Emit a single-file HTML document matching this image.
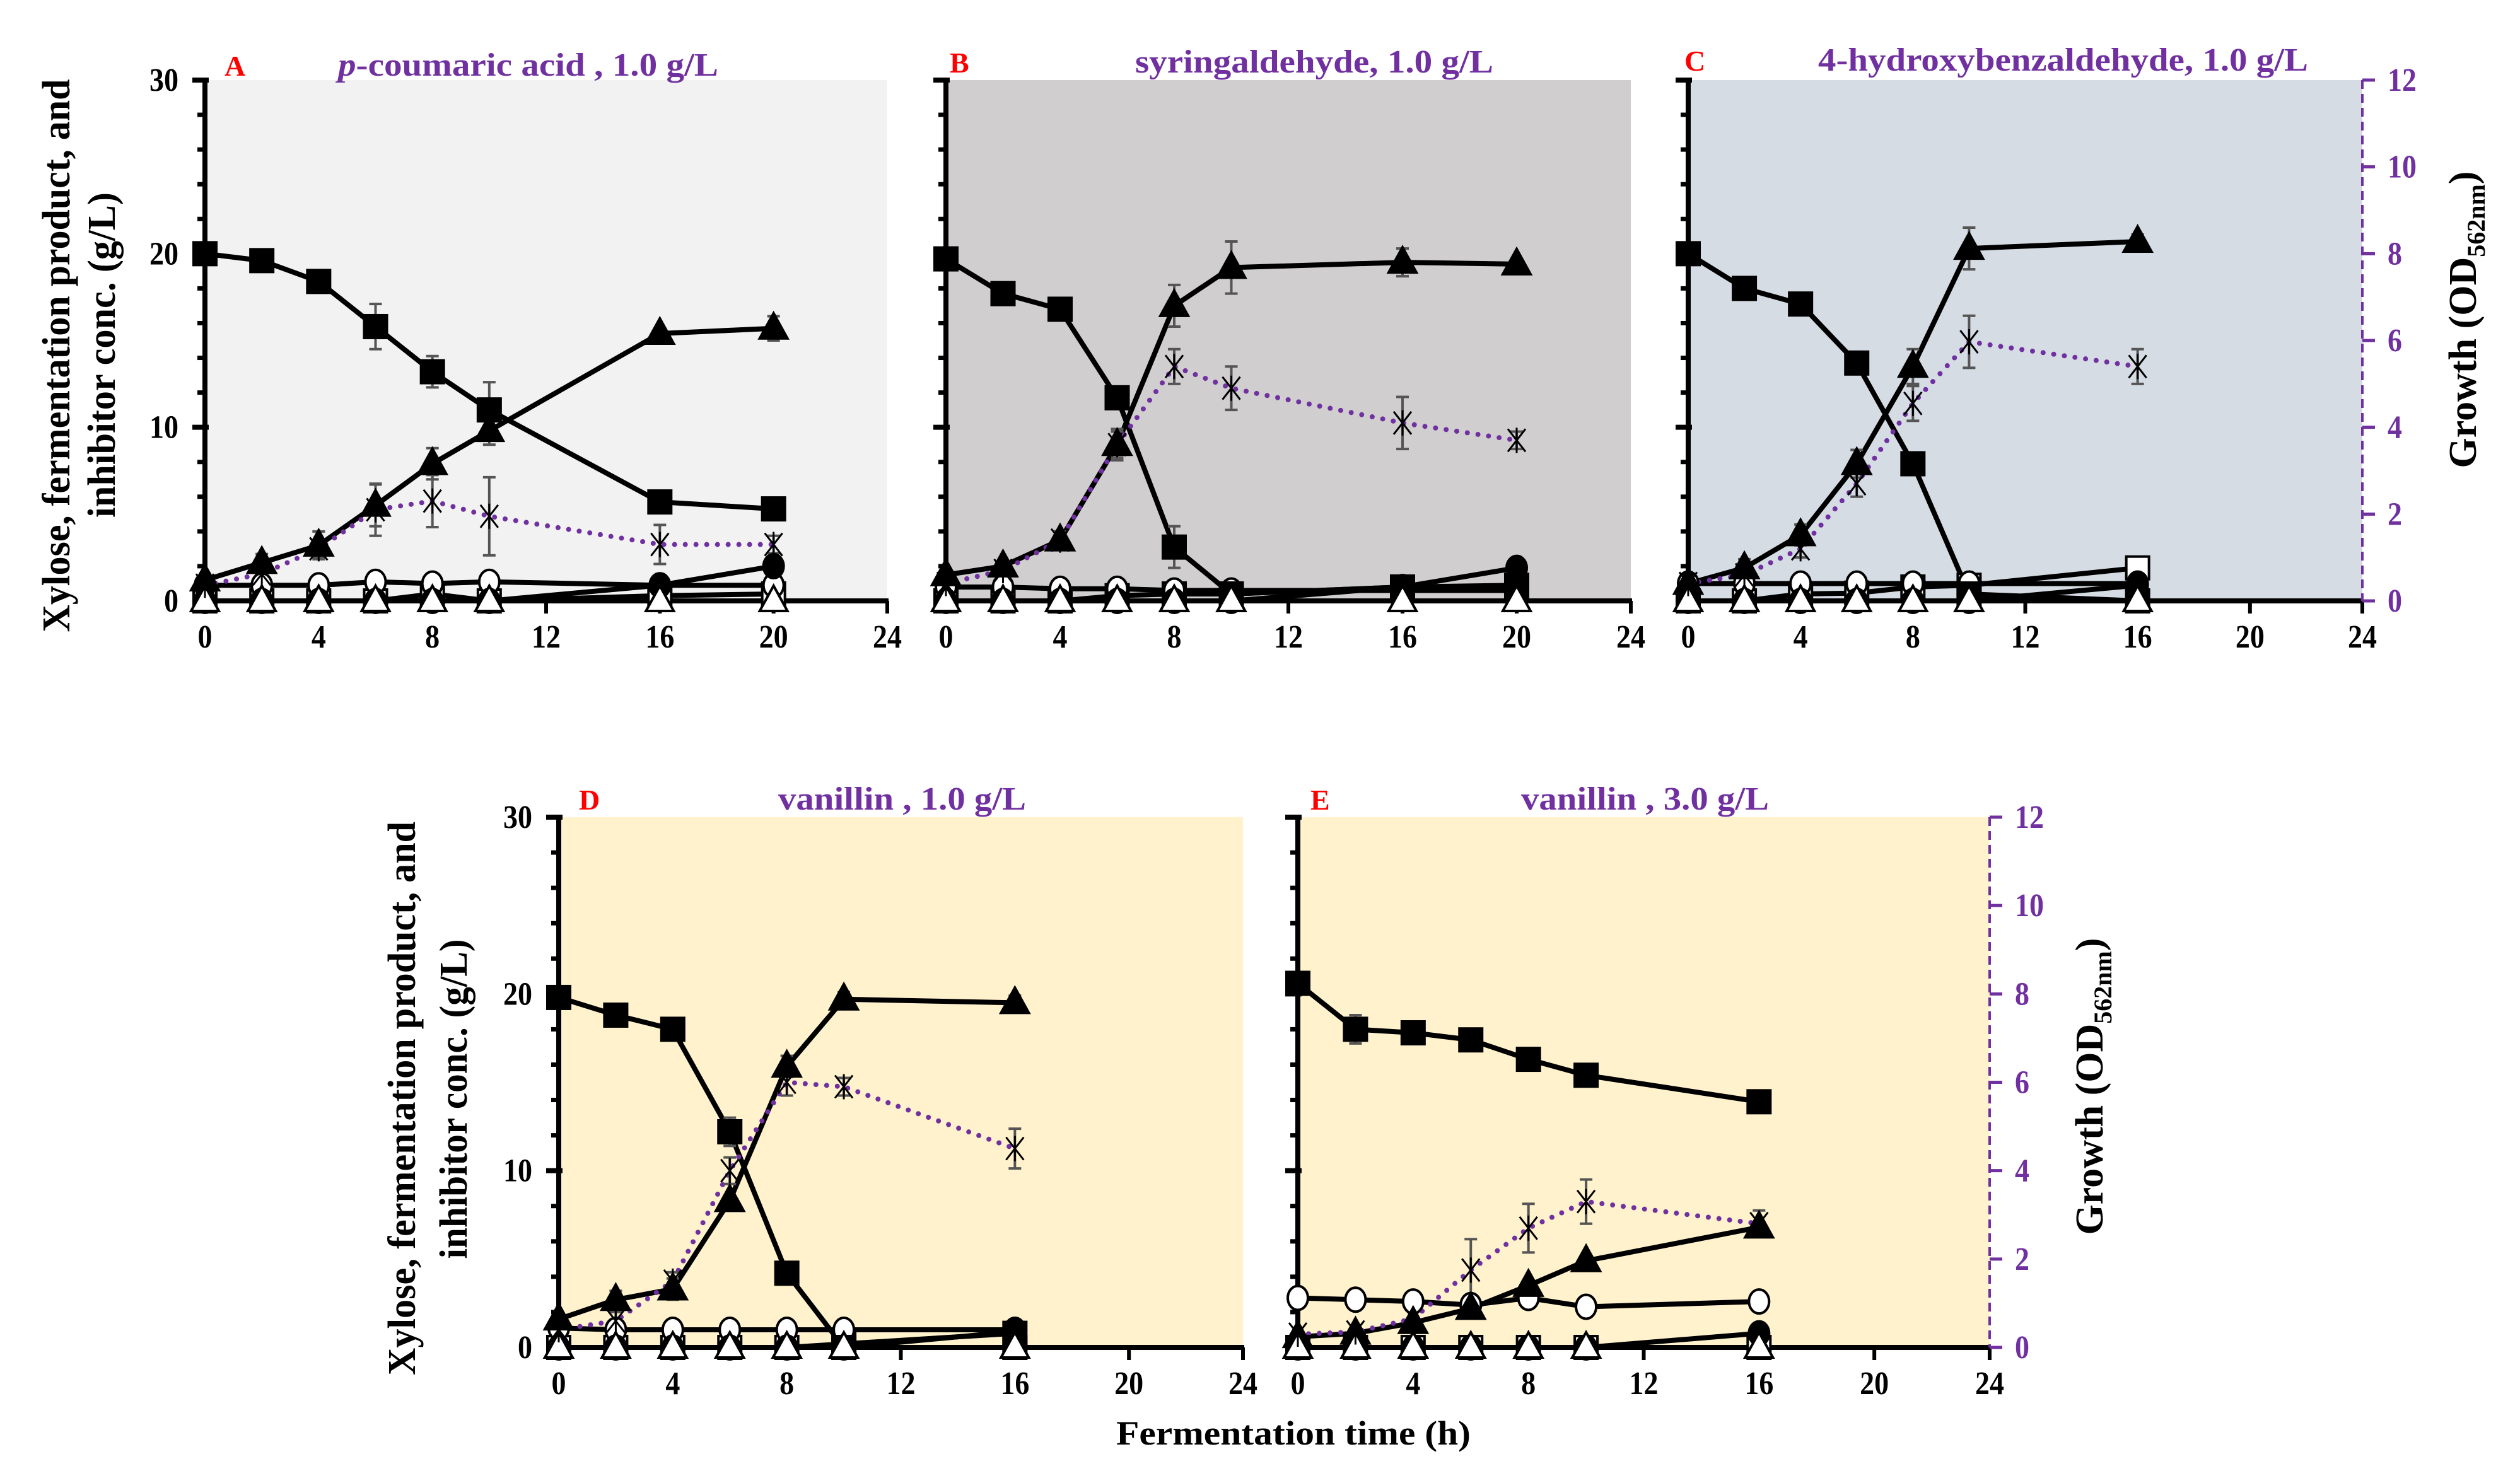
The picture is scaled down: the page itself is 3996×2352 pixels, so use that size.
<!DOCTYPE html>
<html><head><meta charset="utf-8"><style>
html,body{margin:0;padding:0;background:#fff;}
svg{display:block;}
text{font-family:"Liberation Serif",serif;font-weight:bold;}
</style></head><body>
<svg id="chart" width="3996" height="2352" viewBox="0 0 3996 2352" xmlns="http://www.w3.org/2000/svg">
<g id="layer"></g>
</svg>
<script>
// ---------- data ----------
const xTicks = [0, 4, 8, 12, 16, 20, 24];
const yTicksLeft = [0, 10, 20, 30];
const yTicksRight = [0, 2, 4, 6, 8, 10, 12];

const timeA = [0, 2, 4, 6, 8, 10, 16, 20];
const xyloseA = [20, 19.6, 18.4, 15.8, 13.2, 11.0, 5.7, 5.3];
const xyloseErrA = [0, 0.4, 0, 1.3, 0.9, 1.6, 0.4, 0];
const ethanolA = [1.2, 2.2, 3.2, 5.5, 7.9, 9.8, 15.4, 15.7];
const ethanolErrA = [0, 0.5, 0.8, 1.2, 0.9, 0.8, 0.3, 0.7];
const openCircleA = [0.9, 0.9, 0.9, 1.1, 1.0, 1.1, 0.9, 0.9];
const filledCircleA = [0, 0, 0, 0, 0, 0, 0.9, 2.0];
const openSquareA = [0, 0, 0, 0, 0.4, 0, 0.3, 0.4];
const openTriangleA = [0, 0, 0, 0, 0, 0, 0, 0];
const growthA = [0.36, 0.62, 1.2, 2.1, 2.3, 1.95, 1.3, 1.3];
const growthErrA = [0, 0.2, 0.2, 0.6, 0.6, 0.9, 0.45, 0.2];

const timeB = [0, 2, 4, 6, 8, 10, 16, 20];
const xyloseB = [19.7, 17.7, 16.8, 11.7, 3.1, 0.4, 0.8, 0.8];
const xyloseErrB = [0, 0.5, 0, 0, 1.2, 0, 0, 0];
const ethanolB = [1.5, 2.0, 3.5, 9.0, 17.0, 19.2, 19.5, 19.4];
const ethanolErrB = [0, 0, 0.5, 0.9, 1.2, 1.5, 0.8, 0];
const openCircleB = [0.8, 0.8, 0.7, 0.7, 0.6, 0.6, 0.6, 0.6];
const filledCircleB = [0, 0, 0, 0, 0, 0, 0.8, 1.9];
const openSquareB = [0, 0, 0, 0.3, 0.4, 0.4, 0.8, 0.9];
const openTriangleB = [0, 0, 0, 0, 0, 0, 0, 0];
const growthB = [0.4, 0.7, 1.4, 3.6, 5.4, 4.9, 4.1, 3.7];
const growthErrB = [0, 0.2, 0.2, 0.3, 0.4, 0.5, 0.6, 0.2];

const timeC = [0, 2, 4, 6, 8, 10, 16];
const xyloseC = [20, 18.0, 17.1, 13.7, 7.9, 0.4, 0];
const xyloseErrC = [0, 0, 0.4, 0, 0.5, 0, 0];
const ethanolC = [1.0, 1.9, 3.8, 7.9, 13.5, 20.3, 20.7];
const ethanolErrC = [0, 0.5, 0.6, 0.8, 1.0, 1.2, 0.4];
const openCircleC = [1.0, 1.0, 1.0, 1.0, 1.0, 1.0, 1.0];
const filledCircleC = [0, 0, 0, 0, 0, 0, 0.9];
const openSquareC = [0, 0, 0.4, 0.45, 0.8, 0.9, 1.9];
const openTriangleC = [0, 0, 0, 0, 0, 0, 0];
const growthC = [0.4, 0.6, 1.2, 2.7, 4.55, 5.97, 5.4];
const growthErrC = [0, 0.15, 0.2, 0.3, 0.4, 0.6, 0.4];

const timeD = [0, 2, 4, 6, 8, 10, 16];
const xyloseD = [19.8, 18.8, 18.0, 12.2, 4.2, 0, 0];
const xyloseErrD = [0, 0.5, 0.2, 0.8, 0, 0, 0];
const ethanolD = [1.6, 2.7, 3.3, 8.3, 15.9, 19.7, 19.5];
const ethanolErrD = [0, 0.5, 0.6, 0, 0.6, 0.4, 0.4];
const openCircleD = [1.1, 1.0, 1.0, 1.0, 1.0, 1.0, 1.0];
const filledCircleD = [0, 0, 0, 0, 0, 0, 0.9];
const openSquareD = [0, 0, 0, 0, 0, 0.2, 0.8];
const openTriangleD = [0, 0, 0, 0, 0, 0, 0];
const growthD = [0.4, 0.6, 1.5, 4.0, 6.0, 5.9, 4.5];
const growthErrD = [0, 0.2, 0.2, 0.3, 0.3, 0.2, 0.45];

const timeE = [0, 2, 4, 6, 8, 10, 16];
const xyloseE = [20.6, 18.0, 17.8, 17.4, 16.3, 15.4, 13.9];
const xyloseErrE = [0, 0.8, 0, 0, 0, 0, 0];
const ethanolE = [0.6, 0.8, 1.4, 2.2, 3.5, 4.9, 6.8];
const ethanolErrE = [0, 0, 0, 0, 0, 0, 0];
const openCircleE = [2.8, 2.7, 2.6, 2.4, 2.8, 2.3, 2.6];
const filledCircleE = [0, 0, 0, 0, 0, 0, 0.8];
const openSquareE = [0, 0, 0, 0, 0, 0, 0];
const openTriangleE = [0, 0, 0, 0, 0, 0, 0];
const growthE = [0.3, 0.35, 0.65, 1.75, 2.7, 3.3, 2.8];
const growthErrE = [0, 0, 0.2, 0.7, 0.55, 0.5, 0.3];

// ---------- drawing ----------
const NS = "http://www.w3.org/2000/svg";
const layer = document.getElementById("layer");
function mk(tag, attrs, parent) {
  const e = document.createElementNS(NS, tag);
  for (const k in attrs) e.setAttribute(k, attrs[k]);
  (parent || layer).appendChild(e);
  return e;
}
const PURPLE = "#7030a0";

function drawPanel(p) {
  const g = mk("g", {});
  
  
  const xs = t => p.x0 + (p.x1 - p.x0) * t / 24;
  const ys = v => p.yb - (p.yb - p.yt) * v / 30;
  const yr = v => p.yb - (p.yb - p.yt) * v / 12;

  const bg = mk("rect", {x: p.x0, y: p.yt, width: p.x1 - p.x0, height: p.yb - p.yt, fill: p.bg}, g);
  
  

  const la = mk("g", {}, g);
  
  
  mk("line", {x1: p.x0, y1: p.yt - 3, x2: p.x0, y2: p.yb, stroke: "#000", "stroke-width": 8}, la);
  for (let v = 0; v <= 30; v += 2) {
    const major = v % 10 === 0;
    mk("line", {x1: p.x0 - (major ? 20 : 12), y1: ys(v), x2: p.x0 + (major ? 6 : 0), y2: ys(v), stroke: "#000", "stroke-width": major ? 8 : 7}, la);
  }
  if (p.leftLabels) {
    yTicksLeft.forEach(v => {
      const s = String(v);
      const t = mk("text", {x: p.x0 - 42, y: ys(v) + 17, "text-anchor": "end", "font-size": 52, textLength: 23 * s.length, lengthAdjust: "spacingAndGlyphs"}, la);
      
      
      t.textContent = s;
    });
  }
  const xa = mk("g", {}, g);
  
  
  mk("line", {x1: p.x0 - 4, y1: p.yb, x2: p.x1 + 2, y2: p.yb, stroke: "#000", "stroke-width": 8}, xa);
  xTicks.forEach(v => {
    mk("line", {x1: xs(v), y1: p.yb, x2: xs(v), y2: p.yb + 20, stroke: "#000", "stroke-width": 6}, xa);
    const s = String(v);
    const t = mk("text", {x: xs(v), y: p.yb + 74, "text-anchor": "middle", "font-size": 52, textLength: 23 * s.length, lengthAdjust: "spacingAndGlyphs"}, xa);
    
    
    t.textContent = s;
  });
  if (p.right) {
    const ra = mk("g", {}, g);
    
    
    mk("line", {x1: p.x1, y1: p.yt, x2: p.x1, y2: p.yb, stroke: PURPLE, "stroke-width": 4, "stroke-dasharray": "14 8"}, ra);
    yTicksRight.forEach(v => {
      mk("line", {x1: p.x1, y1: yr(v), x2: p.x1 + 20, y2: yr(v), stroke: PURPLE, "stroke-width": 5}, ra);
      const s = String(v);
      const t = mk("text", {x: p.x1 + 40, y: yr(v) + 17, "text-anchor": "start", "font-size": 52, fill: PURPLE, textLength: 23 * s.length, lengthAdjust: "spacingAndGlyphs"}, ra);
      
      
      t.textContent = s;
    });
  }

  const clip = mk("g", {}, g);
  const T = p.t;
  function line(vals, name, scale) {
    const pts = T.map((t, i) => xs(t) + "," + (scale || ys)(vals[i])).join(" ");
    const l = mk("polyline", {points: pts, fill: "none", stroke: "#000", "stroke-width": 8, "stroke-linejoin": "round"}, clip);
    
    
  }
  function errs(vals, errv, scale) {
    T.forEach((t, i) => {
      if (!errv[i]) return;
      const x = xs(t), y1 = (scale || ys)(vals[i] + errv[i]), y2 = (scale || ys)(vals[i] - errv[i]);
      const e = mk("path", {d: `M${x},${y1}V${y2}M${x-10},${y1}H${x+10}M${x-10},${y2}H${x+10}`, stroke: "#555", "stroke-width": 4, fill: "none"}, clip);
      
      
    });
  }
  function markers(vals, kind, name) {
    T.forEach((t, i) => {
      const x = xs(t), y = ys(vals[i]);
      let m;
      if (kind === "fsq" || kind === "osq") m = mk("rect", {x: x - 18, y: y - 18, width: 36, height: 36, fill: kind === "fsq" ? "#000" : "#fff", stroke: "#000", "stroke-width": 4}, clip);
      else if (kind === "ftri" || kind === "otri") m = mk("polygon", {points: `${x},${y-24} ${x+22},${y+16} ${x-22},${y+16}`, fill: kind === "ftri" ? "#000" : "#fff", stroke: "#000", "stroke-width": 4}, clip);
      else m = mk("ellipse", {cx: x, cy: y, rx: 16, ry: 19, fill: kind === "fcir" ? "#000" : "#fff", stroke: "#000", "stroke-width": 4}, clip);
      
      
    });
  }
  line(p.osq, "open-square");
  line(p.fcir, "filled-circle");
  line(p.ocir, "open-circle");
  line(p.xyl, "xylose");
  line(p.eth, "product");
  line(p.otri, "open-triangle");
  const gp = T.map((t, i) => xs(t) + "," + yr(p.gr[i])).join(" ");
  const gl = mk("polyline", {points: gp, fill: "none", stroke: PURPLE, "stroke-width": 8, "stroke-dasharray": "0 17", "stroke-linecap": "round"}, clip);
  
  
  errs(p.xyl, p.xylE); errs(p.eth, p.ethE); errs(p.gr, p.grE, yr);
  markers(p.osq, "osq", "open-square");
  markers(p.ocir, "ocir", "open-circle");
  markers(p.fcir, "fcir", "filled-circle");
  markers(p.xyl, "fsq", "xylose");
  markers(p.eth, "ftri", "product");
  markers(p.otri, "otri", "open-triangle");
  T.forEach((t, i) => {
    const x = xs(t), y = yr(p.gr[i]);
    const s = mk("path", {d: `M${x-14},${y-18}L${x+14},${y+18}M${x+14},${y-18}L${x-14},${y+18}M${x},${y-20}V${y+20}`, stroke: "#000", "stroke-width": 3, fill: "none"}, clip);
    
    
  });

  const lab = mk("text", {x: p.lx, y: p.ty, "font-size": 46, fill: "#ff0000"}, g);
  
  
  lab.textContent = p.id;
  const tt = mk("text", {x: p.tx, y: p.ty, "font-size": 52, fill: PURPLE, textLength: p.tw, lengthAdjust: "spacingAndGlyphs"}, g);
  
  
  if (p.italicP) {
    const ts = mk("tspan", {"font-style": "italic"}, tt); ts.textContent = "p";
    const r = mk("tspan", {}, tt); r.textContent = p.title;
  } else tt.textContent = p.title;
}

const panels = [
  {id: "A", x0: 325, x1: 1407, yt: 127, yb: 953, bg: "#f2f2f2", leftLabels: true, right: false,
   t: timeA, xyl: xyloseA, xylE: xyloseErrA, eth: ethanolA, ethE: ethanolErrA, ocir: openCircleA, fcir: filledCircleA, osq: openSquareA, otri: openTriangleA, gr: growthA, grE: growthErrA,
   lx: 356, tx: 536, ty: 120, tw: 603, italicP: true, title: "-coumaric acid , 1.0 g/L"},
  {id: "B", x0: 1500, x1: 2586, yt: 127, yb: 953, bg: "#d0cece", leftLabels: false, right: false,
   t: timeB, xyl: xyloseB, xylE: xyloseErrB, eth: ethanolB, ethE: ethanolErrB, ocir: openCircleB, fcir: filledCircleB, osq: openSquareB, otri: openTriangleB, gr: growthB, grE: growthErrB,
   lx: 1506, tx: 1800, ty: 115, tw: 568, title: "syringaldehyde, 1.0 g/L"},
  {id: "C", x0: 2677, x1: 3746, yt: 127, yb: 953, bg: "#d6dce4", leftLabels: false, right: true,
   t: timeC, xyl: xyloseC, xylE: xyloseErrC, eth: ethanolC, ethE: ethanolErrC, ocir: openCircleC, fcir: filledCircleC, osq: openSquareC, otri: openTriangleC, gr: growthC, grE: growthErrC,
   lx: 2671, tx: 2883, ty: 112, tw: 777, title: "4-hydroxybenzaldehyde, 1.0 g/L"},
  {id: "D", x0: 886, x1: 1971, yt: 1296, yb: 2137, bg: "#fff2cc", leftLabels: true, right: false,
   t: timeD, xyl: xyloseD, xylE: xyloseErrD, eth: ethanolD, ethE: ethanolErrD, ocir: openCircleD, fcir: filledCircleD, osq: openSquareD, otri: openTriangleD, gr: growthD, grE: growthErrD,
   lx: 918, tx: 1234, ty: 1284, tw: 393, title: "vanillin , 1.0 g/L"},
  {id: "E", x0: 2058, x1: 3155, yt: 1296, yb: 2137, bg: "#fff2cc", leftLabels: false, right: true,
   t: timeE, xyl: xyloseE, xylE: xyloseErrE, eth: ethanolE, ethE: ethanolErrE, ocir: openCircleE, fcir: filledCircleE, osq: openSquareE, otri: openTriangleE, gr: growthE, grE: growthErrE,
   lx: 2078, tx: 2412, ty: 1284, tw: 393, title: "vanillin , 3.0 g/L"}
];
panels.forEach(drawPanel);

function vtext(x, y, len, str, name, size) {
  const t = mk("text", {x: 0, y: 0, "text-anchor": "middle", "font-size": size, textLength: len, lengthAdjust: "spacingAndGlyphs", transform: `translate(${x},${y}) rotate(-90)`});
  
  
  t.textContent = str;
  return t;
}
vtext(110, 564, 877, "Xylose, fermentation product, and", "left-axis-title-line1", 62);
vtext(182, 563, 516, "inhibitor conc. (g/L)", "left-axis-title-line2", 62);
vtext(658, 1742, 878, "Xylose, fermentation product, and", "left-axis-title-line1", 62);
vtext(740, 1743, 507, "inhibitor conc. (g/L)", "left-axis-title-line2", 62);

function growthTitle(x, y, name) {
  const t = mk("text", {x: 0, y: 0, "text-anchor": "middle", "font-size": 62, transform: `translate(${x},${y}) rotate(-90)`});
  
  
  const a = mk("tspan", {}, t); a.textContent = "Growth (OD";
  const b = mk("tspan", {"font-size": 40, dy: 14}, t); b.textContent = "562nm";
  const c = mk("tspan", {dy: -14}, t); c.textContent = ")";
}
growthTitle(3926, 507, "right-axis-title");
growthTitle(3334, 1723, "right-axis-title");

const xl = mk("text", {x: 1770, y: 2291, "font-size": 54, textLength: 562, lengthAdjust: "spacingAndGlyphs"});


xl.textContent = "Fermentation time (h)";
</script>
</body></html>
